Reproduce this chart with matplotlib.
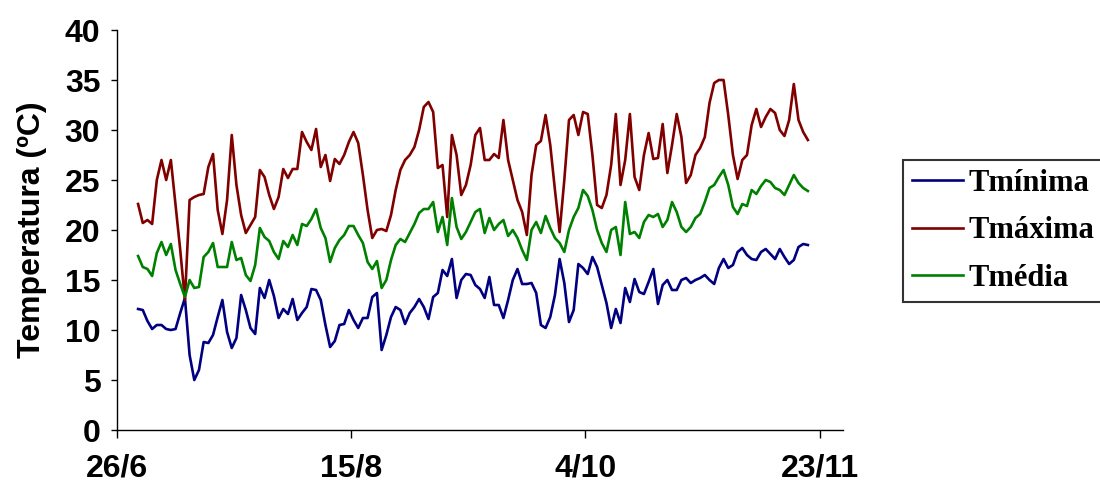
import numpy as np
import matplotlib
matplotlib.use("Agg")
import matplotlib.pyplot as plt

# daily temperatures, 30/6 -> 20/11
tmin = [12.1, 12.0, 10.9, 10.1, 10.5, 10.5, 10.1, 10.0, 10.1, 11.7,
        13.2, 7.5, 5.0, 6.0, 8.8, 8.7, 9.5, 11.3, 13.0, 9.8,
        8.2, 9.2, 13.5, 12.0, 10.2, 9.6, 14.2, 13.2, 15.0, 13.4,
        11.2, 12.1, 11.6, 13.1, 11.0, 11.7, 12.3, 14.1, 14.0, 13.0,
        10.5, 8.3, 8.9, 10.5, 10.6, 12.0, 11.0, 10.2, 11.2, 11.2,
        13.3, 13.7, 8.0, 9.5, 11.3, 12.3, 12.0, 10.6, 11.7, 12.3,
        13.1, 12.3, 11.1, 13.3, 13.7, 16.0, 15.4, 17.1, 13.2, 15.0,
        15.6, 15.5, 14.5, 14.1, 13.2, 15.3, 12.5, 12.5, 11.2, 13.0,
        15.0, 16.1, 14.6, 14.6, 14.7, 13.7, 10.5, 10.2, 11.3, 13.5,
        17.1, 14.7, 10.8, 12.0, 16.6, 16.2, 15.6, 17.3, 16.3, 14.5,
        12.7, 10.2, 12.1, 10.7, 14.2, 12.8, 15.1, 13.8, 13.6, 14.8,
        16.1, 12.6, 14.5, 15.0, 14.0, 14.0, 15.0, 15.2, 14.7, 15.0,
        15.2, 15.5, 15.0, 14.6, 16.2, 17.1, 16.2, 16.5, 17.8, 18.2,
        17.5, 17.1, 17.0, 17.8, 18.1, 17.6, 17.1, 18.1, 17.3, 16.6,
        17.0, 18.3, 18.6, 18.5]

tmax = [22.6, 20.7, 21.0, 20.6, 25.0, 27.0, 25.0, 27.0, 22.5, 18.0,
        13.0, 23.0, 23.3, 23.5, 23.6, 26.3, 27.6, 22.0, 19.6, 23.0,
        29.5, 24.5, 21.5, 19.7, 20.5, 21.3, 26.0, 25.3, 23.5, 22.1,
        23.3, 26.1, 25.2, 26.1, 26.1, 29.8, 28.8, 28.0, 30.1, 26.3,
        27.5, 24.9, 27.1, 26.6, 27.5, 28.8, 29.8, 28.7, 25.5, 22.0,
        19.2, 20.0, 20.1, 19.9, 21.5, 24.0, 26.0, 27.0, 27.5, 28.3,
        30.0, 32.3, 32.8, 31.8, 26.2, 26.5, 21.3, 29.5, 27.5, 23.5,
        24.5, 26.5, 29.5, 30.2, 27.0, 27.0, 27.6, 27.2, 31.0, 27.0,
        25.0, 23.0, 21.8, 19.5, 25.5, 28.5, 28.9, 31.5, 28.5, 24.0,
        19.8, 25.0, 31.0, 31.5, 29.5, 31.8, 31.6, 27.5, 22.5, 22.2,
        23.5, 26.5, 31.6, 24.5, 27.0, 31.6, 25.3, 24.0, 27.5, 29.7,
        27.1, 27.2, 30.6, 25.7, 28.5, 31.6, 29.3, 24.7, 25.5, 27.5,
        28.2, 29.3, 32.7, 34.7, 35.0, 35.0, 31.5, 27.5, 25.1, 27.0,
        27.5, 30.5, 32.1, 30.3, 31.3, 32.1, 31.7, 30.0, 29.4, 31.0,
        34.6, 31.0, 29.8, 29.0]

tmed = [17.4, 16.3, 16.1, 15.4, 17.7, 18.8, 17.5, 18.6, 16.0, 14.6,
        13.3, 15.0, 14.2, 14.3, 17.3, 17.8, 18.7, 16.3, 16.3, 16.3,
        18.8, 17.0, 17.2, 15.5, 14.9, 16.5, 20.2, 19.3, 18.9, 17.8,
        17.1, 18.9, 18.3, 19.5, 18.5, 20.6, 20.4, 21.1, 22.1, 20.2,
        19.2, 16.8, 18.2, 19.0, 19.5, 20.4, 20.4, 19.5, 18.7, 16.8,
        16.1, 16.9, 14.2, 15.0, 17.0, 18.5, 19.1, 18.8, 19.7, 20.6,
        21.7, 22.1, 22.1, 22.8, 19.8, 21.3, 18.5, 23.2, 20.3, 19.1,
        19.8, 20.8, 21.8, 22.1, 19.7, 21.2, 20.0, 20.6, 21.0, 19.4,
        20.0, 19.2, 18.0, 17.0, 20.0, 20.8, 19.7, 21.4, 20.2, 19.2,
        18.7, 17.8, 20.0, 21.3, 22.2, 24.0, 23.4, 22.0, 20.0, 18.7,
        17.8, 20.0, 20.3, 17.5, 22.8, 19.6, 19.8, 19.2, 20.8, 21.5,
        21.3, 21.6, 20.3, 21.0, 22.8, 21.8, 20.3, 19.8, 20.3, 21.2,
        21.6, 22.8, 24.2, 24.5, 25.3, 26.0, 24.5, 22.3, 21.6, 22.6,
        22.4, 24.0, 23.6, 24.4, 25.0, 24.8, 24.2, 24.0, 23.5, 24.5,
        25.5, 24.7, 24.2, 23.9]

# x axis: days counted from 26/6
first_day = 4.5
tick_days = [0, 50, 100, 150]
tick_labels = ["26/6", "15/8", "4/10", "23/11"]
days = first_day + np.arange(len(tmin))

fig = plt.figure(figsize=(11, 4.87), dpi=100)
ax = fig.add_axes([117/1100, 57/487, 726/1100, 400/487])

ax.plot(days, tmin, color="#000080", lw=1.9, label="Tmínima", solid_joinstyle="round")
ax.plot(days, tmax, color="#800000", lw=1.9, label="Tmáxima", solid_joinstyle="round")
ax.plot(days, tmed, color="#008000", lw=1.9, label="Tmédia", solid_joinstyle="round")

ax.set_xlim(0, 155)
ax.set_ylim(0, 40)
ax.set_yticks(range(0, 41, 5))
ax.set_xticks(tick_days)
ax.set_xticklabels(tick_labels)

for s in ["top", "right"]:
    ax.spines[s].set_visible(False)
for s in ["left", "bottom"]:
    ax.spines[s].set_linewidth(1.0)

ax.tick_params(axis="x", direction="out", length=6, width=1, pad=11)
ax.tick_params(axis="y", direction="out", length=4, width=1, pad=8)
for lab in ax.get_xticklabels() + ax.get_yticklabels():
    lab.set_fontfamily("Liberation Sans")
    lab.set_fontweight("bold")
    lab.set_fontsize(23)

ax.set_ylabel("Temperatura (ºC)", fontfamily="Liberation Sans", fontweight="bold",
              fontsize=23, labelpad=13)

leg = fig.legend(loc="upper left", bbox_to_anchor=(903/1100, 1 - 160/487),
                 frameon=True, fancybox=False, edgecolor="black",
                 prop={"family": "Liberation Serif", "weight": "bold", "size": 22},
                 handlelength=1.65, handletextpad=0.2, labelspacing=0.6,
                 borderpad=0.3, borderaxespad=0)
leg.get_frame().set_linewidth(1.5)

fig.savefig("out.png", dpi=100)
